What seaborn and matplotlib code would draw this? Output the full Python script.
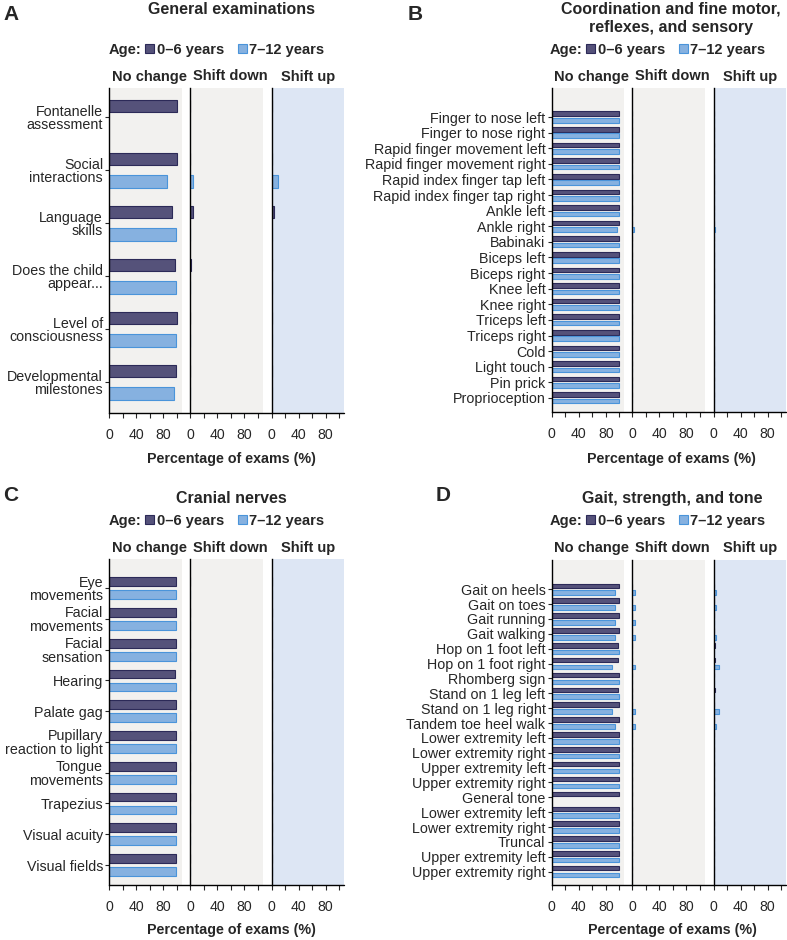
import numpy as np
import pandas as pd
import matplotlib
matplotlib.use("Agg")
import matplotlib.pyplot as plt
from matplotlib.colors import to_hex
from matplotlib.lines import Line2D
from matplotlib.patches import Patch
import seaborn as sns

nan = np.nan

AGES = ["0–6 years", "7–12 years"]
OUTCOMES = ["No change", "Shift down", "Shift up"]

# %% — Data (percentage of exams)
# A: General examinations
A_items = ["Fontanelle\nassessment", "Social\ninteractions", "Language\nskills",
           "Does the child\nappear...", "Level of\nconsciousness", "Developmental\nmilestones"]
A_none_06 = [100, 100, 93, 97.5, 100, 99]
A_none_712 = [nan, 86, 99, 99, 99, 96.5]
A_down_06 = [0, 0, 4, 2, 0, 0]
A_down_712 = [nan, 4, 0, 0, 0, 0]
A_up_06 = [0, 0.5, 3, 0.5, 0, 0]
A_up_712 = [nan, 10, 0, 0, 0, 0]

# B: Coordination and fine motor, reflexes, and sensory
B_items = ["Finger to nose left", "Finger to nose right", "Rapid finger movement left",
           "Rapid finger movement right", "Rapid index finger tap left",
           "Rapid index finger tap right", "Ankle left", "Ankle right", "Babinaki",
           "Biceps left", "Biceps right", "Knee left", "Knee right", "Triceps left",
           "Triceps right", "Cold", "Light touch", "Pin prick", "Proprioception"]
B_none_06 = [99] * 19
B_none_712 = [99, 99, 99, 99, 99, 99, 99, 97, 99, 99, 99, 99, 99, 99, 99, 99, 99, 99, 99]
B_down_06 = [0] * 19
B_down_712 = [0, 0, 0, 0, 0, 0, 0, 2, 0, 0, 0, 0, 0, 0, 0, 0, 0, 0, 0]
B_up_06 = [0] * 19
B_up_712 = [0, 0, 0, 0, 0, 0, 0, 2, 0, 0, 0, 0, 0, 0, 0, 0, 0, 0, 0]

# C: Cranial nerves
C_items = ["Eye\nmovements", "Facial\nmovements", "Facial\nsensation", "Hearing",
           "Palate gag", "Pupillary\nreaction to light", "Tongue\nmovements",
           "Trapezius", "Visual acuity", "Visual fields"]
C_none_06 = [99, 99, 99, 98, 99, 99, 99, 99, 99, 99]
C_none_712 = [99] * 10
C_down_06 = [0, 0, 0, 0.5, 0, 0, 0, 0, 0, 0]
C_down_712 = [0] * 10
C_up_06 = [0, 0, 0, 0.5, 0, 0, 0, 0, 0, 0]
C_up_712 = [0] * 10

# D: Gait, strength, and tone
D_items = ["Gait on heels", "Gait on toes", "Gait running", "Gait walking",
           "Hop on 1 foot left", "Hop on 1 foot right", "Rhomberg sign",
           "Stand on 1 leg left", "Stand on 1 leg right", "Tandem toe heel walk",
           "Lower extremity left", "Lower extremity right", "Upper extremity left",
           "Upper extremity right", "General tone", "Lower extremity left",
           "Lower extremity right", "Truncal", "Upper extremity left", "Upper extremity right"]
D_none_06 = [100, 100, 100, 100, 98.5, 98.5, 100, 98.5, 100, 100,
             100, 100, 100, 100, 100, 100, 100, 100, 100, 100]
D_none_712 = [93, 93, 93, 93, 100, 89, 100, 100, 89, 93,
              100, 100, 100, 100, nan, 100, 100, 100, 100, 100]
D_down_06 = [0] * 20
D_down_712 = [3.5, 3.5, 3.5, 3.5, 0, 3.5, 0, 0, 3.5, 3.5,
              0, 0, 0, 0, nan, 0, 0, 0, 0, 0]
D_up_06 = [0, 0, 0, 0, 1.5, 1.5, 0, 1.5, 0, 0,
           0, 0, 0, 0, 0, 0, 0, 0, 0, 0]
D_up_712 = [3.5, 3.5, 0, 3.5, 0, 7.5, 0, 0, 7.5, 3.5,
            0, 0, 0, 0, nan, 0, 0, 0, 0, 0]

# %% — Style
DARK, DARK_EDGE = "#55527a", "#2c2a58"
LIGHT, LIGHT_EDGE = "#86b1e0", "#4a94da"
BG = ["#f2f1ef", "#f2f1ef", "#dde6f4"]
EDGE_OF = {DARK: DARK_EDGE, LIGHT: LIGHT_EDGE}

sns.set_style("ticks")
plt.rcParams["font.family"] = ["Liberation Sans", "DejaVu Sans"]

W, H = 787, 940
fig = plt.figure(figsize=(W / 100, H / 100), dpi=100)

COLS_L = [(109.3, 181.7), (190.0, 263.0), (271.7, 344.0)]
COLS_R = [(551.7, 624.3), (632.3, 705.0), (713.7, 786.0)]


def rect(x0, x1, ytop, ybot):
    return [x0 / W, 1 - ybot / H, (x1 - x0) / W, (ybot - ytop) / H]


def long_frame(n, v06, v712):
    df = pd.DataFrame({"pos": list(range(n)) * 2,
                       "age": [AGES[0]] * n + [AGES[1]] * n,
                       "pct": list(v06) + list(v712)})
    return df.dropna()


def draw_panel(letter, letter_xy, title, title_x, title_y, items, values, cols,
               ytop, ybot, margins, width, gap, legend_y, age_right, header_y, xlabel_y):
    n = len(items)
    for k, (x0, x1) in enumerate(cols):
        ax = fig.add_axes(rect(x0, x1, ytop, ybot))
        df = long_frame(n, *values[k])
        sns.barplot(data=df, x="pct", y="pos", hue="age", order=list(range(n)),
                    hue_order=AGES, palette={AGES[0]: DARK, AGES[1]: LIGHT},
                    saturation=1, width=width, gap=gap, orient="h",
                    errorbar=None, legend=False, linewidth=0.8, ax=ax)
        for bar in ax.patches:
            bar.set_edgecolor(EDGE_OF.get(to_hex(bar.get_facecolor()), "none"))
        ax.set_facecolor(BG[k])
        ax.set_xlim(0, 107.5)
        ax.set_ylim(n - 1 + margins[1], -margins[0])
        ax.set_xticks([0, 20, 40, 60, 80, 100])
        ax.set_xticklabels(["0", "", "40", "", "80", ""])
        ax.tick_params(axis="x", length=3.6, width=0.8, labelsize=10.2, pad=7.5)
        ax.set_xlabel("")
        ax.set_ylabel("")
        for side in ["top", "right", "bottom"]:
            ax.spines[side].set_visible(False)
        ax.spines["left"].set_color("black")
        ax.spines["left"].set_linewidth(1.0)
        if k == 0:
            ax.set_yticks(range(n))
            ax.set_yticklabels(items)
            ax.tick_params(axis="y", length=3, width=0.8, labelsize=10.3, pad=1.5)
            for lbl in ax.get_yticklabels():
                lbl.set_linespacing(0.95)
                lbl.set_multialignment("right")
        else:
            ax.tick_params(axis="y", left=False, labelleft=False)
        xc = (x0 + x1) / 2 + [4, 4, 0][k]
        fig.text(xc / W, 1 - header_y / H, OUTCOMES[k], ha="center", va="center",
                 weight="bold", size=10.5)

    fig.add_artist(Line2D([cols[0][0] / W, cols[-1][1] / W], [1 - ybot / H] * 2,
                          color="black", lw=1.0))
    fig.text(letter_xy[0] / W, 1 - letter_xy[1] / H, letter, ha="center", va="center",
             weight="bold", size=15)
    fig.text(title_x / W, 1 - title_y / H, title, ha="center", va="center",
             weight="bold", size=11.5, linespacing=1.25)
    fig.text(age_right / W, 1 - legend_y / H, "Age:", ha="right", va="center",
             weight="bold", size=10.5)
    handles = [Patch(facecolor=DARK, edgecolor=DARK_EDGE, linewidth=0.8),
               Patch(facecolor=LIGHT, edgecolor=LIGHT_EDGE, linewidth=0.8)]
    fig.legend(handles, AGES, loc="center left",
               bbox_to_anchor=((age_right + 4) / W, 1 - legend_y / H), ncol=2,
               frameon=False, borderpad=0, borderaxespad=0, handlelength=0.6,
               handleheight=0.6, handletextpad=0.2, columnspacing=0.95,
               prop={"weight": "bold", "size": 10.5})
    fig.text(title_x / W, 1 - xlabel_y / H, "Percentage of exams (%)", ha="center",
             va="center", weight="bold", size=10.3)


draw_panel("A", (11, 14.5), "General examinations", 231, 9.5, A_items,
           [(A_none_06, A_none_712), (A_down_06, A_down_712), (A_up_06, A_up_712)],
           COLS_L, 88, 413, (0.55, 0.58), 0.85, 0.45, 50, 141, 76.5, 459)

draw_panel("B", (415.5, 14.5), "Coordination and fine motor,\nreflexes, and sensory", 671,
           18.5, B_items,
           [(B_none_06, B_none_712), (B_down_06, B_down_712), (B_up_06, B_up_712)],
           COLS_R, 88, 412, (1.86, 0.9), 0.82, 0.27, 50, 582, 76.5, 459)

draw_panel("C", (11, 495.7), "Cranial nerves", 231, 498.8, C_items,
           [(C_none_06, C_none_712), (C_down_06, C_down_712), (C_up_06, C_up_712)],
           COLS_L, 559.3, 885, (0.94, 0.65), 0.84, 0.33, 520.7, 141, 548.3, 930)

draw_panel("D", (443.5, 495.7), "Gait, strength, and tone", 672.5, 498.5, D_items,
           [(D_none_06, D_none_712), (D_down_06, D_down_712), (D_up_06, D_up_712)],
           COLS_R, 560, 885, (1.97, 0.9), 0.92, 0.34, 520.7, 582, 548.3, 930)

fig.savefig("out.png", dpi=100)
